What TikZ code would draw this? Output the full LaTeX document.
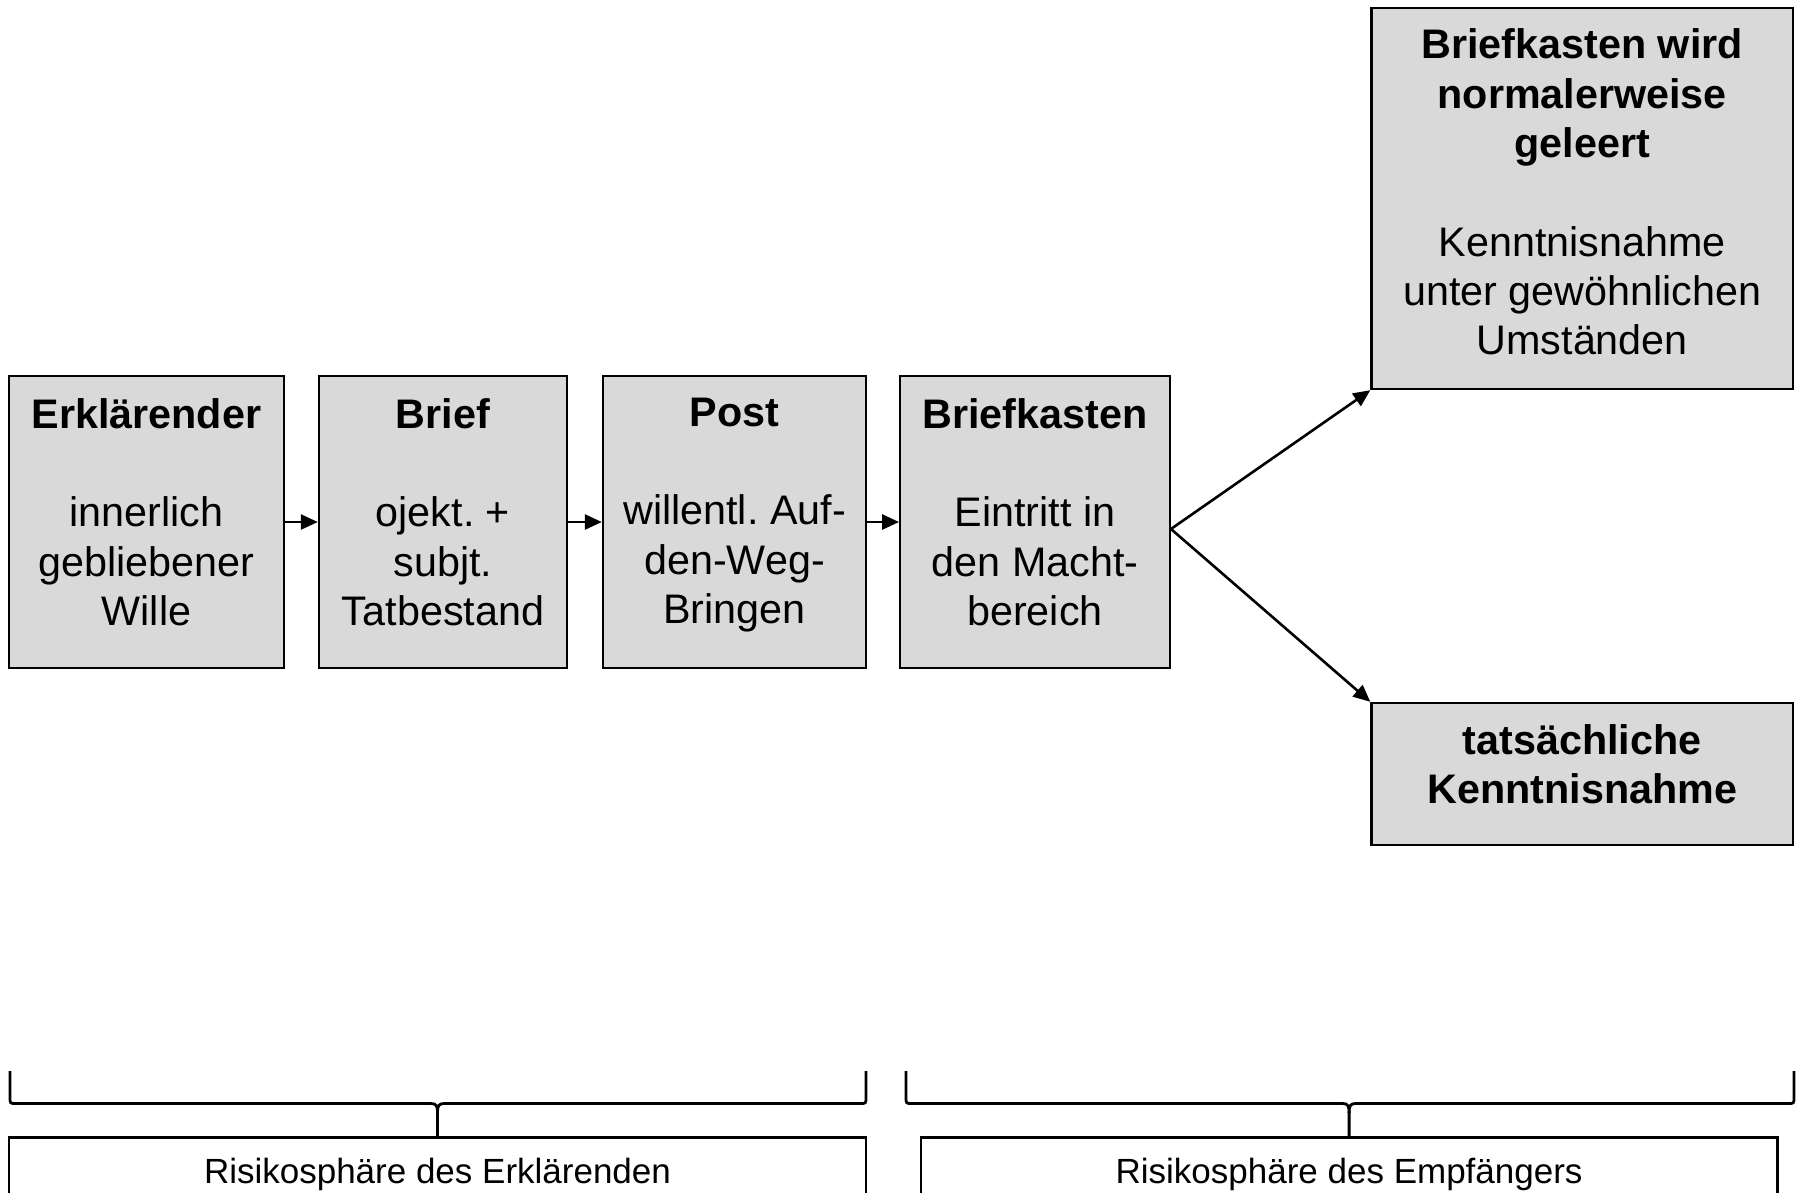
\documentclass[tikz,border=0pt]{standalone}
\usepackage{fontspec}
\setmainfont{Liberation Sans}
\frenchspacing
\usetikzlibrary{arrows.meta,calc}
\definecolor{boxgray}{HTML}{D9D9D9}
\tikzset{
  box/.style={draw=black, fill=boxgray, line width=2.4pt, rectangle, inner sep=0pt},
  wbox/.style={draw=black, line width=2.4pt, rectangle, inner sep=0pt},
  txt/.style={align=center, inner sep=0pt, font=\fontsize{41.3}{49.3}\selectfont},
  smalltxt/.style={align=center, inner sep=0pt, font=\fontsize{35}{42}\selectfont},
  arr/.style={line width=2.6pt, -{Triangle[length=17pt,width=15pt]}},
  bracestyle/.style={line width=2.8pt}
}
\begin{document}
\begin{tikzpicture}[x=1pt,y=-1pt]
\useasboundingbox (0,0) rectangle (1798,1192);
\clip (0,0) rectangle (1798,1192);

% main boxes
\node[box, minimum width=275pt, minimum height=292pt] (b1) at (146.5,522) {};
\node[box, minimum width=248pt, minimum height=292pt] (b2) at (443,522) {};
\node[box, minimum width=263pt, minimum height=292pt] (b3) at (734.5,522) {};
\node[box, minimum width=269.5pt, minimum height=292pt] (b4) at (1035,522) {};
\node[box, minimum width=421.5pt, minimum height=381pt] (b5) at (1582.25,198.5) {};
\node[box, minimum width=421.5pt, minimum height=142pt] (b6) at (1582.25,774) {};

% texts
\node[txt] (t1) at (146.5,512) {\textbf{Erklärender}\\[49.3pt]innerlich\\gebliebener\\Wille};
\node[txt] (t2) at (443,512) {\textbf{Brief}\\[49.3pt]ojekt.\ +\\subjt.\\Tatbestand};
\node[txt] (t3) at (734.5,515) {\textbf{Post}\\[49.3pt]willentl.\ Auf-\\den-Weg-\\Bringen};
\node[txt] (t4) at (1035,512) {\textbf{Briefkasten}\\[49.3pt]Eintritt in\\den Macht-\\bereich};
\node[txt] (t5) at (1582.25,192) {\textbf{Briefkasten wird}\\\textbf{normalerweise}\\\textbf{geleert}\\[49.3pt]Kenntnisnahme\\unter gewöhnlichen\\Umständen};
\node[txt] (t6) at (1582.25,764) {\textbf{tatsächliche}\\\textbf{Kenntnisnahme}};

% arrows
\draw[arr] (b1.east) -- (b2.west);
\draw[arr] (b2.east) -- (b3.west);
\draw[arr] (b3.east) -- (b4.west);
\coordinate (fork) at ($(b4.east)+(0,7)$);
\draw[arr] (fork) -- (b5.south west);
\draw[arr] (fork) -- (b6.north west);

% bottom boxes
\node[wbox, minimum width=856.6pt, minimum height=100pt] (r1) at (437.5,1187.5) {};
\node[wbox, minimum width=856.6pt, minimum height=100pt] (r2) at (1349.1,1187.5) {};
\node[smalltxt] (rt1) at (437.5,1174) {Risikosphäre des Erklärenden};
\node[smalltxt] (rt2) at (1349.1,1174) {Risikosphäre des Empfängers};

% braces
\draw[bracestyle] (10,1071) -- (10,1097) .. controls (10,1103.5) .. (16,1103.5)
  -- (431,1103.5) .. controls (436.5,1103.5) and (437.5,1106) .. (437.5,1113) -- (r1.north);
\draw[bracestyle] (866,1071) -- (866,1097) .. controls (866,1103.5) .. (860,1103.5)
  -- (444,1103.5) .. controls (438.5,1103.5) and (437.5,1106) .. (437.5,1113);
\draw[bracestyle] (906,1071) -- (906,1097) .. controls (906,1103.5) .. (912,1103.5)
  -- (1342.6,1103.5) .. controls (1348.1,1103.5) and (1349.1,1106) .. (1349.1,1113) -- (r2.north);
\draw[bracestyle] (1794,1071) -- (1794,1097) .. controls (1794,1103.5) .. (1788,1103.5)
  -- (1355.6,1103.5) .. controls (1350.1,1103.5) and (1349.1,1106) .. (1349.1,1113);
\end{tikzpicture}
\end{document}
